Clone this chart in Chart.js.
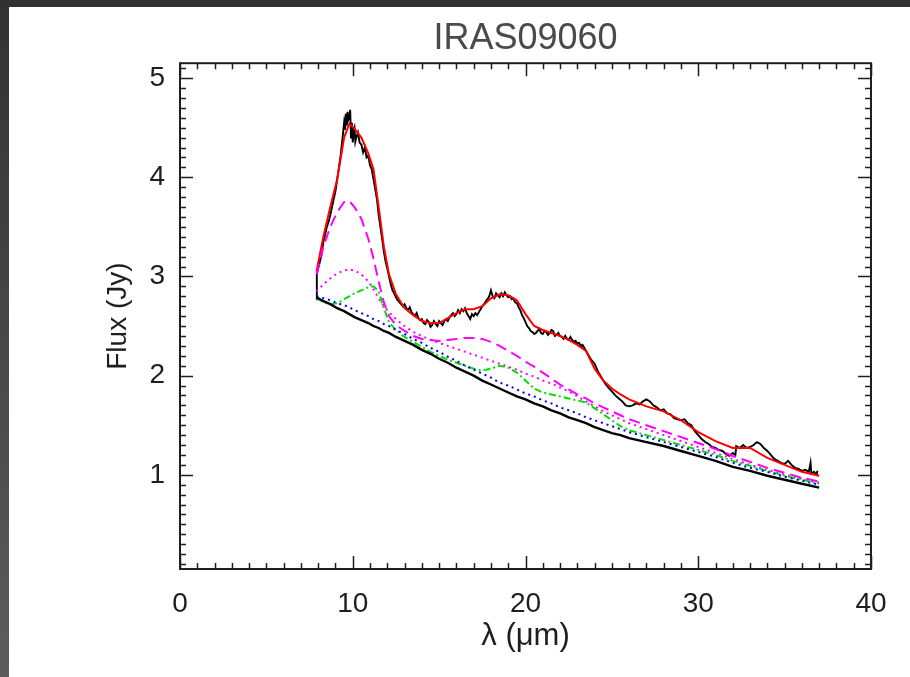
<!DOCTYPE html>
<html>
<head>
<meta charset="utf-8">
<script src="https://cdn.jsdelivr.net/npm/chart.js@4.4.1/dist/chart.umd.min.js"></script>
<style>
  html, body { margin: 0; padding: 0; width: 910px; height: 677px; overflow: hidden; }
  body { background: linear-gradient(to bottom, #323232 0%, #5c5c5c 100%); position: relative; }
  #paper { position: absolute; left: 9px; top: 7px; right: 0; bottom: 0; background: #ffffff; }
  #c { position: absolute; left: 0; top: 0; }
</style>
</head>
<body>
<div id="paper"></div>
<canvas id="c" width="910" height="677"></canvas>
<script>
// ---------- data ----------
const chartTitle = "IRAS09060";
const xAxisTitle = "\u03bb (\u03bcm)";
const yAxisTitle = "Flux (Jy)";
const xTickValues = [0, 10, 20, 30, 40];
const yTickValues = [1, 2, 3, 4, 5];

// observed spectrum (black, noisy)
const obsWave = [7.88,7.92,8.0,8.1,8.2,8.3,8.4,8.5,8.6,8.7,8.8,8.9,9.0,9.1,9.2,9.3,9.4,9.5,9.55,9.6,9.65,9.7,9.75,9.8,9.85,9.9,9.95,10.0,10.05,10.1,10.15,10.2,10.3,10.4,10.5,10.6,10.7,10.8,10.9,11.0,11.1,11.2,11.3,11.4,11.5,11.6,11.7,11.8,11.9,12.0,12.1,12.2,12.3,12.4,12.5,12.6,12.7,12.8,12.9,
13.0,13.1,13.2,13.3,13.4,13.5,13.6,13.7,13.8,13.9,14.0,14.1,14.2,14.3,14.4,14.5,14.6,14.7,14.8,14.9,15.0,15.1,15.2,15.3,15.4,15.5,15.6,15.7,15.8,15.9,16.0,16.1,16.2,16.3,16.4,16.5,16.6,16.7,16.8,16.9,17.0,17.1,17.2,17.3,17.4,17.5,17.6,17.7,17.8,17.9,18.0,18.1,18.2,18.3,18.4,18.5,18.6,18.7,18.8,18.9,19.0,19.1,19.2,19.3,19.4,19.5,19.6,19.7,19.8,19.9,20.0,20.1,20.2,20.3,20.4,20.5,20.6,20.7,20.8,20.9,21.0,21.1,21.2,21.3,21.4,21.5,21.6,21.7,21.8,21.9,22.0,22.1,22.2,22.3,22.4,22.5,22.6,22.7,22.8,22.9,23.0,23.1,23.2,23.3,23.4,23.5,23.6,23.8,24.0,24.2,24.4,24.6,24.8,25.0,25.2,25.4,25.6,25.8,26.0,26.2,26.4,26.6,26.8,27.0,27.2,27.4,27.6,27.8,28.0,28.2,28.4,28.6,28.8,29.0,29.2,29.4,29.6,29.8,30.0,30.2,30.4,30.6,30.8,31.0,31.2,31.4,31.6,31.8,32.0,32.15,32.2,32.4,32.6,32.8,33.0,33.2,33.4,33.6,33.8,34.0,34.2,34.4,34.6,34.8,35.0,35.2,35.4,35.6,35.8,36.0,36.2,36.4,36.5,36.55,36.7,36.85,36.9];
const obsFlux = [2.77,3.02,3.08,3.15,3.22,3.35,3.42,3.50,3.55,3.62,3.70,3.78,3.86,3.98,4.10,4.22,4.38,4.55,4.48,4.64,4.52,4.66,4.58,4.60,4.68,4.40,4.55,4.35,4.47,4.50,4.36,4.40,4.45,4.35,4.33,4.25,4.30,4.20,4.22,4.12,4.08,3.98,3.88,3.78,3.62,3.50,3.38,3.25,3.15,3.08,3.00,2.92,2.86,2.83,2.79,2.76,2.74,2.72,2.70,
2.72,2.68,2.66,2.69,2.64,2.62,2.60,2.63,2.58,2.56,2.57,2.53,2.52,2.56,2.54,2.49,2.51,2.55,2.52,2.50,2.55,2.53,2.51,2.55,2.57,2.55,2.59,2.61,2.63,2.60,2.62,2.66,2.63,2.67,2.65,2.68,2.63,2.60,2.57,2.62,2.60,2.63,2.61,2.64,2.67,2.70,2.72,2.75,2.77,2.80,2.86,2.80,2.78,2.83,2.81,2.79,2.83,2.80,2.84,2.81,2.79,2.80,2.77,2.78,2.74,2.73,2.69,2.66,2.61,2.58,2.54,2.50,2.48,2.45,2.44,2.42,2.43,2.45,2.47,2.43,2.42,2.45,2.44,2.41,2.43,2.46,2.45,2.40,2.41,2.43,2.40,2.39,2.37,2.40,2.37,2.36,2.39,2.36,2.34,2.35,2.32,2.33,2.30,2.31,2.28,2.25,2.22,2.16,2.12,2.04,1.98,1.92,1.88,1.84,1.80,1.77,1.74,1.70,1.69,1.70,1.72,1.71,1.74,1.76,1.74,1.70,1.68,1.65,1.66,1.62,1.61,1.57,1.56,1.55,1.56,1.52,1.50,1.44,1.40,1.36,1.33,1.31,1.28,1.27,1.25,1.24,1.21,1.19,1.22,1.20,1.29,1.27,1.30,1.27,1.28,1.30,1.33,1.31,1.27,1.24,1.20,1.16,1.14,1.12,1.11,1.14,1.10,1.07,1.06,1.04,1.05,1.03,1.12,1.01,1.03,1.00,1.04];

// model wavelength grid and model components
const modelWave = [7.9,8.3,8.7,9.1,9.5,9.8,10.1,10.5,10.9,11.2,11.5,11.8,12.1,12.5,13,13.5,14,14.5,15,15.5,16,16.5,17,17.5,18,18.5,19,19.5,20,20.5,21,21.5,22,22.5,23,23.5,24,24.5,25,25.5,26,27,28,29,30,31,32,33,34,35,36,37];
const totalFit = [3.05,3.40,3.70,3.98,4.40,4.54,4.49,4.40,4.24,4.08,3.70,3.30,3.02,2.82,2.68,2.61,2.55,2.53,2.53,2.58,2.63,2.67,2.67,2.70,2.78,2.82,2.81,2.76,2.62,2.50,2.46,2.43,2.40,2.36,2.31,2.25,2.07,1.95,1.87,1.81,1.76,1.69,1.64,1.55,1.43,1.34,1.27,1.27,1.17,1.10,1.03,0.99];
const compDashedMagenta = [3.02,3.30,3.50,3.65,3.75,3.76,3.70,3.58,3.38,3.18,2.95,2.74,2.60,2.51,2.45,2.40,2.37,2.36,2.35,2.36,2.37,2.38,2.38,2.37,2.34,2.30,2.25,2.20,2.14,2.09,2.03,1.97,1.91,1.86,1.81,1.77,1.72,1.68,1.64,1.60,1.56,1.50,1.44,1.38,1.32,1.26,1.19,1.13,1.07,1.02,0.97,0.93];
const compDottedMagenta = [2.85,2.92,2.98,3.03,3.06,3.07,3.06,3.02,2.95,2.87,2.78,2.70,2.64,2.57,2.50,2.44,2.40,2.36,2.33,2.30,2.27,2.24,2.21,2.18,2.15,2.12,2.09,2.06,2.02,1.99,1.95,1.92,1.88,1.84,1.79,1.74,1.69,1.64,1.60,1.56,1.52,1.46,1.40,1.34,1.28,1.22,1.16,1.10,1.05,1.00,0.96,0.92];
const compGreen = [2.78,2.74,2.72,2.73,2.77,2.80,2.83,2.86,2.89,2.90,2.85,2.68,2.54,2.46,2.39,2.34,2.29,2.24,2.20,2.16,2.13,2.10,2.07,2.05,2.07,2.10,2.08,2.03,1.95,1.87,1.83,1.81,1.79,1.77,1.75,1.73,1.67,1.61,1.55,1.49,1.45,1.40,1.35,1.30,1.25,1.20,1.14,1.09,1.04,0.99,0.95,0.91];
const compBlue = [2.80,2.78,2.76,2.73,2.71,2.69,2.66,2.63,2.60,2.57,2.55,2.52,2.50,2.46,2.42,2.37,2.33,2.28,2.24,2.19,2.15,2.10,2.06,2.02,1.98,1.93,1.90,1.86,1.82,1.79,1.75,1.72,1.68,1.65,1.62,1.58,1.55,1.52,1.49,1.46,1.43,1.38,1.33,1.28,1.23,1.18,1.12,1.07,1.03,0.98,0.94,0.90];
const continuum = [2.79,2.75,2.72,2.68,2.65,2.62,2.59,2.56,2.53,2.50,2.48,2.45,2.43,2.39,2.35,2.31,2.26,2.22,2.17,2.13,2.08,2.04,2.00,1.95,1.91,1.87,1.83,1.79,1.76,1.72,1.69,1.65,1.62,1.58,1.55,1.52,1.48,1.45,1.42,1.40,1.37,1.33,1.29,1.24,1.19,1.14,1.08,1.04,0.99,0.95,0.91,0.87];

// ---------- helpers ----------
const pts = (xs, ys) => xs.map((x, i) => ({x: x, y: ys[i]}));
const FONT = "'Liberation Sans', Arial, sans-serif";

const frameTicks = {
  id: 'frameTicks',
  afterDatasetsDraw(chart) {
    const {ctx, chartArea: a, scales} = chart;
    const sx = scales.x, sy = scales.y;
    ctx.save();
    ctx.strokeStyle = '#1e1e1e';
    ctx.lineWidth = 1.5;
    ctx.beginPath();
    for (let i = 0; i <= 40; i++) {
      const px = Math.round(sx.getPixelForValue(i)) + 0.5;
      const len = (i % 10 === 0) ? 13 : 6;
      ctx.moveTo(px, a.bottom); ctx.lineTo(px, a.bottom - len);
      ctx.moveTo(px, a.top); ctx.lineTo(px, a.top + len);
    }
    for (let i = 1; i <= 51; i++) {
      const py = Math.round(sy.getPixelForValue(i / 10)) + 0.5;
      const len = (i % 10 === 0) ? 13 : 6;
      ctx.moveTo(a.left, py); ctx.lineTo(a.left + len, py);
      ctx.moveTo(a.right, py); ctx.lineTo(a.right - len, py);
    }
    ctx.stroke();
    ctx.lineWidth = 2;
    ctx.strokeRect(a.left, a.top, a.right - a.left, a.bottom - a.top);
    ctx.restore();
  }
};

const ds = (label, xs, ys, color, width, dash, order) => ({
  label: label,
  data: pts(xs, ys),
  borderColor: color,
  backgroundColor: color,
  borderWidth: width,
  borderDash: dash,
  pointRadius: 0,
  tension: 0,
  fill: false,
  showLine: true,
  order: order
});

new Chart(document.getElementById('c'), {
  type: 'scatter',
  data: {
    datasets: [
      ds('observed', obsWave, obsFlux, '#000000', 1.9, [], 6),
      ds('total fit', modelWave, totalFit, '#ff0000', 2, [], 5),
      ds('component 1', modelWave, compDashedMagenta, '#ff00ff', 2, [11, 6], 4),
      ds('component 2', modelWave, compDottedMagenta, '#ff00ff', 2, [2, 4], 3),
      ds('component 3', modelWave, compGreen, '#00e000', 2, [7, 3, 2, 3], 2),
      ds('component 4', modelWave, compBlue, '#0000ff', 2, [2, 4], 1),
      ds('continuum', modelWave, continuum, '#000000', 2.4, [], 0)
    ]
  },
  options: {
    responsive: false,
    animation: false,
    devicePixelRatio: 1,
    layout: { padding: { left: 0, right: 39, top: 0, bottom: 0 } },
    plugins: {
      legend: { display: false },
      tooltip: { enabled: false },
      title: {
        display: true,
        text: chartTitle,
        fullSize: false,
        color: '#4a4a4a',
        font: { family: FONT, size: 36, weight: 'normal', lineHeight: 1.2 },
        padding: { top: 17, bottom: 3 }
      }
    },
    scales: {
      x: {
        type: 'linear',
        min: 0, max: 40,
        grid: { display: false },
        border: { display: false },
        afterBuildTicks: s => { s.ticks = xTickValues.map(v => ({value: v})); },
        afterFit: s => { s.height = 108; },
        ticks: {
          color: '#1e1e1e',
          font: { family: FONT, size: 28, lineHeight: 1.2 },
          padding: 10,
          maxRotation: 0,
          autoSkip: false
        },
        title: {
          display: true,
          text: xAxisTitle,
          color: '#1e1e1e',
          font: { family: FONT, size: 31, lineHeight: 1.2 },
          padding: { top: 0, bottom: 22 }
        }
      },
      y: {
        type: 'linear',
        min: 0.05, max: 5.15,
        grid: { display: false },
        border: { display: false },
        afterBuildTicks: s => { s.ticks = yTickValues.map(v => ({value: v})); },
        afterFit: s => { s.width = 180; },
        ticks: {
          color: '#1e1e1e',
          font: { family: FONT, size: 28, lineHeight: 1.2 },
          padding: 7,
          autoSkip: false
        },
        title: {
          display: true,
          text: yAxisTitle,
          color: '#1e1e1e',
          font: { family: FONT, size: 28, lineHeight: 1.2 },
          padding: { top: 101, bottom: 0 }
        }
      }
    }
  },
  plugins: [frameTicks]
});
</script>
</body>
</html>
